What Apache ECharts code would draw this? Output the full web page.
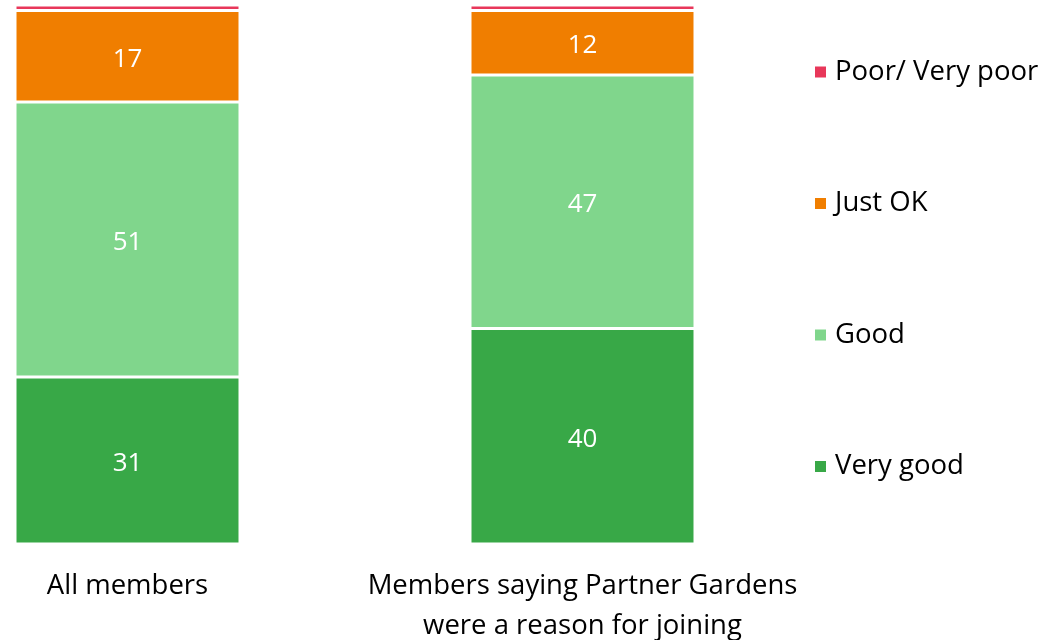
<!DOCTYPE html>
<html>
<head>
<meta charset="utf-8">
<style>
  html, body { margin: 0; padding: 0; background: #fff; }
  #chart { width: 1048px; height: 640px; }
</style>
<script src="https://cdn.jsdelivr.net/npm/echarts@6/dist/echarts.min.js"></script>
</head>
<body>
<div id="chart"></div>
<script>
// Rating shares (%) for each member group
const categories = ['All members', 'Members saying Partner Gardens\nwere a reason for joining'];
const veryGood = [31, 40];
const good = [51, 47];
const justOk = [17, 12];
const poor = [1, 1];
const seriesNames = ['Very good', 'Good', 'Just OK', 'Poor/ Very poor'];
const seriesColors = ['#38A847', '#80D68C', '#F07E00', '#E8375A'];

const font = 'Open Sans, Noto Sans, sans-serif';
const chart = echarts.init(document.getElementById('chart'));

function makeSeries(name, values, color, showLabel) {
  return {
    name: name,
    type: 'bar',
    stack: 'total',
    barWidth: 225,
    clip: false,
    data: values,
    itemStyle: { color: color, borderColor: '#fff', borderWidth: 1.5 },
    label: {
      show: showLabel,
      position: 'inside',
      offset: [0, 3],
      color: '#fff',
      fontFamily: font,
      fontSize: 26
    },
    emphasis: { disabled: true }
  };
}

chart.setOption({
  animation: false,
  grid: {
    left: 127.5,
    right: 465.5,
    top: 5,
    bottom: 96,
    containLabel: false,
    outerBoundsMode: 'none'
  },
  legend: {
    orient: 'vertical',
    left: 808,
    top: 48,
    data: seriesNames.slice().reverse(),
    icon: 'rect',
    itemWidth: 13,
    itemHeight: 13,
    itemGap: 93.5,
    textStyle: {
      fontFamily: font,
      fontSize: 27.5,
      color: '#000',
      lineHeight: 38,
      padding: [0, 0, 0, 3]
    }
  },
  xAxis: {
    type: 'category',
    data: categories,
    boundaryGap: false,
    axisLine: { show: false },
    axisTick: { show: false },
    axisLabel: {
      interval: 0,
      showMinLabel: true,
      showMaxLabel: true,
      margin: 22,
      fontFamily: font,
      fontSize: 27.5,
      color: '#000',
      lineHeight: 40
    }
  },
  yAxis: {
    type: 'value',
    min: 0,
    max: 100,
    show: false,
    splitLine: { show: false }
  },
  series: [
    makeSeries(seriesNames[0], veryGood, seriesColors[0], true),
    makeSeries(seriesNames[1], good, seriesColors[1], true),
    makeSeries(seriesNames[2], justOk, seriesColors[2], true),
    makeSeries(seriesNames[3], poor, seriesColors[3], false)
  ]
});
</script>
</body>
</html>
